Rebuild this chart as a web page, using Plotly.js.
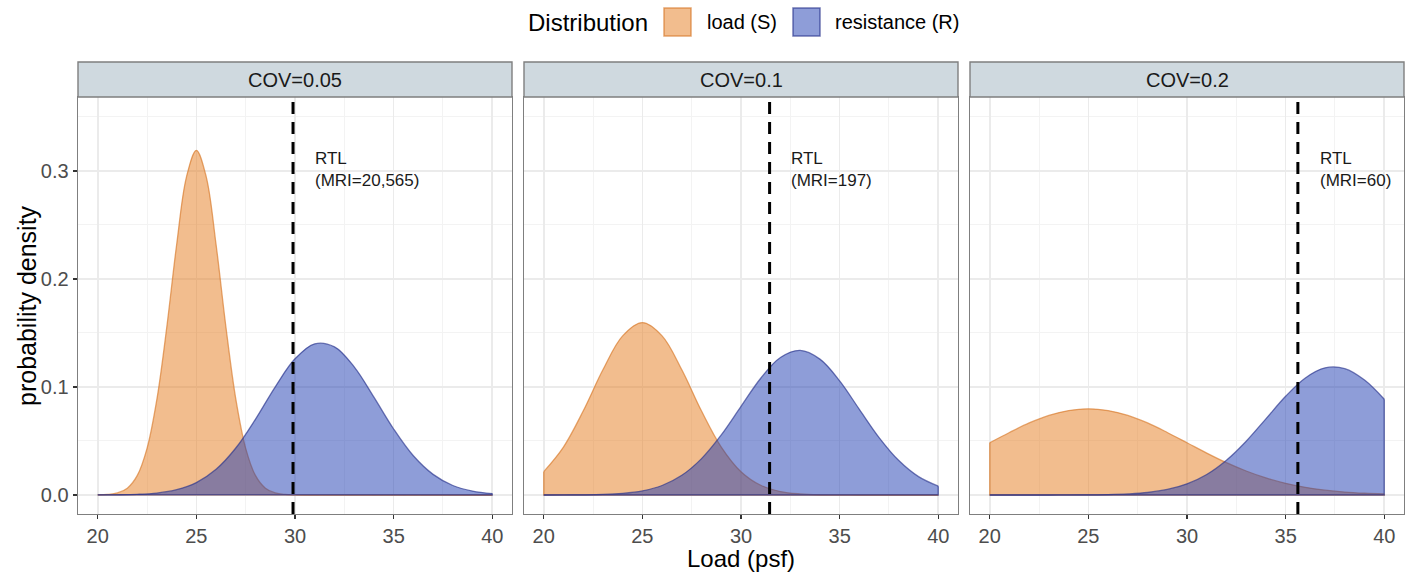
<!DOCTYPE html>
<html>
<head>
<meta charset="utf-8">
<script src="https://cdn.plot.ly/plotly-3.0.1.min.js"></script>
<style>html,body{margin:0;padding:0;background:#fff;}#chart{width:1415px;height:574px;}</style>
</head>
<body>
<div id="chart"></div>
<script>
// ---------- data ----------
const facetLabels = ['COV=0.05', 'COV=0.1', 'COV=0.2'];
const seriesNames = ['load (S)', 'resistance (R)'];
const rtlValues = [29.9, 31.45, 35.62];
const rtlLabels = ['RTL<br>(MRI=20,565)', 'RTL<br>(MRI=197)', 'RTL<br>(MRI=60)'];

// load grid for the narrow COV=0.05 curve (step 0.5)
const xFine = [20,20.5,21,21.5,22,22.5,23,23.5,24,24.5,25,25.5,26,26.5,27,27.5,28,28.5,29,29.5,30,
               30.5,31,31.5,32,32.5,33,33.5,34,34.5,35,35.5,36,36.5,37,37.5,38,38.5,39,39.5,40];
// common grid (step 1)
const xGrid = [20,21,22,23,24,25,26,27,28,29,30,31,32,33,34,35,36,37,38,39,40];

const loadCov005 = [0.0001,0.0005,0.0019,0.0063,0.0179,0.0432,0.0887,0.1553,0.2317,0.2946,0.3191,
                    0.2946,0.2317,0.1553,0.0887,0.0432,0.0179,0.0063,0.0019,0.0005,0.0001,
                    0,0,0,0,0,0,0,0,0,0,0,0,0,0,0,0,0,0,0,0];
const resCov005  = [0.00005,0.0002,0.0006,0.0018,0.0049,0.0115,0.0238,0.0435,0.0703,0.1002,0.1261,
                    0.1400,0.1372,0.1187,0.0906,0.0611,0.0363,0.0191,0.0088,0.0036,0.0013];
const loadCov01  = [0.0216,0.0444,0.0777,0.1159,0.1473,0.1596,0.1473,0.1159,0.0777,0.0444,0.0216,
                    0.0090,0.0032,0.0010,0.0002,0.00005,0,0,0,0,0];
const resCov01   = [0.00001,0.00004,0.00016,0.0005,0.0015,0.0038,0.0088,0.0182,0.0337,0.0556,0.0820,
                    0.1081,0.1273,0.1339,0.1258,0.1057,0.0793,0.0532,0.0319,0.0170,0.0082];
const loadCov02  = [0.0484,0.0579,0.0667,0.0737,0.0782,0.0798,0.0782,0.0737,0.0667,0.0579,0.0484,
                    0.0388,0.0299,0.0222,0.0158,0.0108,0.0071,0.0045,0.0027,0.0016,0.0009];
const resCov02   = [0,0,0,0.00001,0.00004,0.00013,0.00036,0.0010,0.0023,0.0051,0.0103,
                    0.0190,0.0322,0.0498,0.0705,0.0914,0.1084,0.1177,0.1170,0.1064,0.0886];

const xTicks = [20,25,30,35,40];
const yTicks = [0,0.1,0.2,0.3];
const yTickText = ['0.0','0.1','0.2','0.3'];

// ---------- styling ----------
const W = 1415, H = 574;
const FONT = 'Liberation Sans, Arial, Helvetica, sans-serif';
const loadFill = 'rgba(229,123,29,0.5)';
const resFill  = 'rgba(29,59,177,0.5)';
const loadLine = 'rgba(215,120,40,0.65)';
const resLine  = 'rgba(40,50,140,0.65)';
const panelLeft = [78, 524, 970], panelW = 434;
const plotTop = 97, plotBottom = 514, stripTop = 62;
const px = v => v / W, py = v => 1 - v / H;

const panels = [
  {x: xFine, load: loadCov005, xr: xGrid, res: resCov005},
  {x: xGrid, load: loadCov01,  xr: xGrid, res: resCov01},
  {x: xGrid, load: loadCov02,  xr: xGrid, res: resCov02}
];

const traces = [];
const layout = {
  width: W, height: H,
  margin: {l: 0, r: 0, t: 0, b: 0},
  paper_bgcolor: '#fff', plot_bgcolor: '#fff',
  showlegend: false,
  font: {family: FONT, color: '#000'},
  shapes: [], annotations: []
};

function edges(xs, ys) {
  const n = xs.length - 1;
  return {x: [xs[0], xs[0], xs[n], xs[n]], y: [ys[0], 0, 0, ys[n]]};
}

panels.forEach((p, i) => {
  const s = i === 0 ? '' : String(i + 1);
  const xa = 'x' + s, ya = 'y' + s;
  const series = [
    {x: p.x, y: p.load, f: loadFill, l: loadLine, name: seriesNames[0]},
    {x: p.xr, y: p.res, f: resFill, l: resLine, name: seriesNames[1]}
  ];
  series.forEach(sr => {
    traces.push({
      type: 'scatter', mode: 'lines', x: sr.x, y: sr.y, xaxis: xa, yaxis: ya,
      name: sr.name, fill: 'tozeroy', fillcolor: sr.f,
      line: {color: sr.l, width: 1.3, shape: 'spline', smoothing: 1},
      hoverinfo: 'x+y+name'
    });
    const e = edges(sr.x, sr.y);
    traces.push({
      type: 'scatter', mode: 'lines', x: e.x, y: e.y, xaxis: xa, yaxis: ya,
      line: {color: sr.l, width: 1.3}, hoverinfo: 'skip', showlegend: false
    });
  });

  const L = panelLeft[i], R = L + panelW;
  layout['xaxis' + s] = {
    domain: [px(L), px(R)], anchor: ya, range: [19, 41],
    tickmode: 'array', tickvals: xTicks, ticktext: xTicks.map(String),
    ticks: 'outside', ticklen: 4, tickwidth: 1.3, tickcolor: '#333',
    tickfont: {family: FONT, size: 20, color: '#4D4D4D'},
    showgrid: true, gridcolor: '#EBEBEB', gridwidth: 1.6,
    minor: {tickvals: [22.5, 27.5, 32.5, 37.5], showgrid: true, gridcolor: '#F3F3F3', gridwidth: 1, ticks: ''},
    zeroline: false, showline: true, mirror: true, linecolor: '#7F7F7F', linewidth: 1.4,
    fixedrange: true
  };
  layout['yaxis' + s] = {
    domain: [py(plotBottom), py(plotTop)], anchor: xa, range: [-0.0176, 0.3685],
    tickmode: 'array', tickvals: yTicks, ticktext: yTickText,
    ticks: i === 0 ? 'outside' : '', ticklen: 4, tickwidth: 1.3, tickcolor: '#333',
    showticklabels: i === 0,
    tickfont: {family: FONT, size: 20, color: '#4D4D4D'},
    showgrid: true, gridcolor: '#EBEBEB', gridwidth: 1.6,
    minor: {tickvals: [0.05, 0.15, 0.25, 0.35], showgrid: true, gridcolor: '#F3F3F3', gridwidth: 1, ticks: ''},
    zeroline: false, showline: true, mirror: true, linecolor: '#7F7F7F', linewidth: 1.4,
    fixedrange: true
  };

  // strip
  layout.shapes.push({
    type: 'rect', xref: 'paper', yref: 'paper',
    x0: px(L), x1: px(R), y0: py(plotTop), y1: py(stripTop),
    fillcolor: '#CFD9DF', line: {color: '#7F7F7F', width: 1.4}
  });
  layout.annotations.push({
    xref: 'paper', yref: 'paper', x: px((L + R) / 2), y: py((stripTop + plotTop) / 2),
    text: facetLabels[i], showarrow: false, xanchor: 'center', yanchor: 'middle',
    font: {family: FONT, size: 20, color: '#1A1A1A'}
  });

  // RTL dashed line
  layout.shapes.push({
    type: 'line', xref: xa, yref: ya + ' domain',
    x0: rtlValues[i], x1: rtlValues[i], y0: 0, y1: 1,
    line: {color: '#000', width: 3, dash: '12px,8px'}
  });
  layout.annotations.push({
    xref: xa, yref: ya, x: rtlValues[i] + 1.0, y: 0.301,
    text: rtlLabels[i], showarrow: false, xanchor: 'left', yanchor: 'middle', align: 'left',
    font: {family: FONT, size: 17, color: '#1A1A1A'}
  });
});

// axis titles
layout.annotations.push({
  xref: 'paper', yref: 'paper', x: px(741), y: py(574),
  text: 'Load (psf)', showarrow: false, xanchor: 'center', yanchor: 'bottom',
  font: {family: FONT, size: 24, color: '#000'}
});
layout.annotations.push({
  xref: 'paper', yref: 'paper', x: px(27), y: py(306),
  text: 'probability density', showarrow: false, textangle: -90,
  xanchor: 'center', yanchor: 'middle',
  font: {family: FONT, size: 25, color: '#000'}
});

// legend (drawn manually to match the ggplot key layout)
const legendItems = [
  {label: seriesNames[0], f: loadFill, l: loadLine, box: [664, 691], tx: 705},
  {label: seriesNames[1], f: resFill,  l: resLine,  box: [793, 820], tx: 833}
];
layout.annotations.push({
  xref: 'paper', yref: 'paper', x: px(650), y: py(22),
  text: 'Distribution', showarrow: false, xanchor: 'right', yanchor: 'middle',
  font: {family: FONT, size: 24, color: '#000'}
});
legendItems.forEach(it => {
  layout.shapes.push({
    type: 'rect', xref: 'paper', yref: 'paper',
    x0: px(it.box[0]), x1: px(it.box[1]), y0: py(36), y1: py(8),
    fillcolor: it.f, line: {color: it.l, width: 1.5}
  });
  layout.annotations.push({
    xref: 'paper', yref: 'paper', x: px(it.tx), y: py(22),
    text: it.label, showarrow: false, xanchor: 'left', yanchor: 'middle',
    font: {family: FONT, size: 20, color: '#000'}
  });
});

Plotly.newPlot('chart', traces, layout, {displayModeBar: false, staticPlot: true});
</script>
</body>
</html>
